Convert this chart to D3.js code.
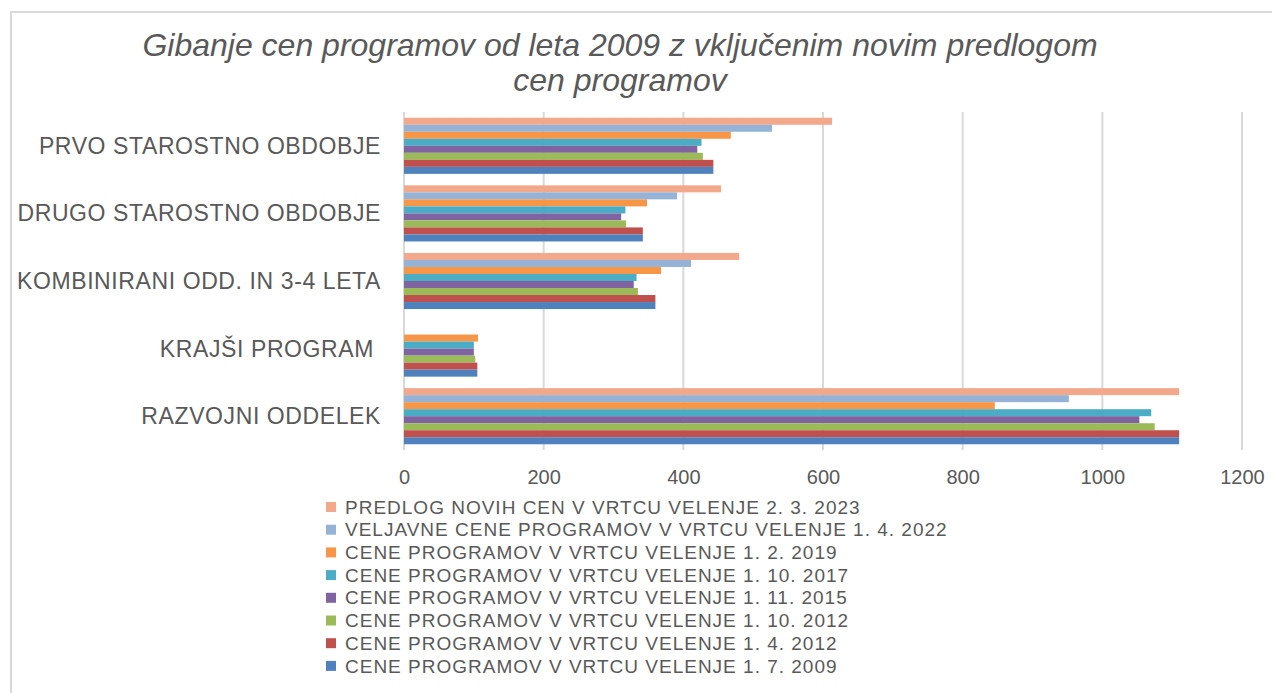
<!DOCTYPE html>
<html>
<head>
<meta charset="utf-8">
<script src="https://cdn.jsdelivr.net/npm/d3@7"></script>
<style>
  body { margin: 0; background: #fff; }
  text { font-family: "Liberation Sans", Arial, sans-serif; fill: #595959; }
</style>
</head>
<body>
<div id="chart"></div>
<script>
var svgWidth = 1272;
var svgHeight = 693;

// categories, top to bottom
var categories = [
  "PRVO STAROSTNO OBDOBJE",
  "DRUGO STAROSTNO OBDOBJE",
  "KOMBINIRANI ODD. IN 3-4 LETA",
  "KRAJŠI PROGRAM ",
  "RAZVOJNI ODDELEK"
];

// series, top bar in each group first
var seriesNames = [
  "PREDLOG NOVIH CEN V VRTCU VELENJE 2. 3. 2023",
  "VELJAVNE CENE PROGRAMOV V VRTCU VELENJE 1. 4. 2022",
  "CENE PROGRAMOV V VRTCU VELENJE 1. 2. 2019",
  "CENE PROGRAMOV V VRTCU VELENJE 1. 10. 2017",
  "CENE PROGRAMOV V VRTCU VELENJE 1. 11. 2015",
  "CENE PROGRAMOV V VRTCU VELENJE 1. 10. 2012",
  "CENE PROGRAMOV V VRTCU VELENJE 1. 4. 2012",
  "CENE PROGRAMOV V VRTCU VELENJE 1. 7. 2009"
];

var seriesColors = ["#F2A88B", "#95B3D7", "#F79646", "#4BACC6", "#8064A2", "#9BBB59", "#C0504D", "#4F81BD"];

// values per series, in category order
var predlog2023 = [613, 454, 480, null, 1110];
var veljavne2022 = [527, 391, 411, null, 952];
var cene2019 = [468, 348, 368, 106, 846];
var cene2017 = [426, 317, 333, 100, 1070];
var cene2015 = [420, 311, 329, 100, 1053];
var cene2012oct = [428, 318, 335, 102, 1075];
var cene2012apr = [443, 342, 360, 105, 1110];
var cene2009 = [443, 342, 360, 105, 1110];

var seriesValues = [predlog2023, veljavne2022, cene2019, cene2017, cene2015, cene2012oct, cene2012apr, cene2009];

var xTicks = [0, 200, 400, 600, 800, 1000, 1200];

var svg = d3.select("#chart")
  .append("svg")
  .attr("width", svgWidth)
  .attr("height", svgHeight);

// chart frame
svg.append("path")
  .attr("d", "M11,700 L11,12 L1280,12")
  .attr("fill", "none")
  .attr("stroke", "#d9d9d9")
  .attr("stroke-width", 2);

// title
var title = svg.append("text")
  .attr("text-anchor", "middle")
  .style("font-style", "italic")
  .style("font-size", "32px");
title.append("tspan").attr("x", 620).attr("y", 56)
  .text("Gibanje cen programov od leta 2009 z vključenim novim predlogom");
title.append("tspan").attr("x", 620).attr("y", 91)
  .text("cen programov");

var plot = { left: 404, right: 1242, top: 112, bottom: 450 };

var xScale = d3.scaleLinear()
  .domain([0, 1200])
  .range([plot.left, plot.right]);

var yScale = d3.scaleBand()
  .domain(categories)
  .range([plot.top, plot.bottom])
  .paddingInner(0.17)
  .paddingOuter(0.085);

var ySub = d3.scaleBand()
  .domain(d3.range(seriesNames.length))
  .range([0, yScale.bandwidth()]);

// gridlines
svg.append("g")
  .selectAll("line")
  .data(xTicks)
  .enter()
  .append("line")
  .attr("x1", d => xScale(d))
  .attr("x2", d => xScale(d))
  .attr("y1", plot.top)
  .attr("y2", plot.bottom)
  .attr("stroke", "#d9d9d9")
  .attr("stroke-width", 2);

// bars
var groups = svg.append("g")
  .selectAll("g")
  .data(seriesValues)
  .enter()
  .append("g")
  .attr("fill", (d, i) => seriesColors[i]);

groups.each(function (vals, si) {
  d3.select(this).selectAll("rect")
    .data(vals.map((v, ci) => ({ v: v, c: categories[ci] })).filter(d => d.v != null))
    .enter()
    .append("rect")
    .attr("x", xScale(0))
    .attr("y", d => yScale(d.c) + ySub(si))
    .attr("width", d => xScale(d.v) - xScale(0))
    .attr("height", ySub.bandwidth());
});

// x axis labels
var bottomAxis = d3.axisBottom(xScale)
  .tickValues(xTicks)
  .tickFormat(d3.format("d"))
  .tickSize(0)
  .tickPadding(20);

var xAxis = svg.append("g")
  .attr("transform", `translate(0, ${plot.bottom})`)
  .call(bottomAxis);
xAxis.select(".domain").remove();
xAxis.selectAll("text")
  .style("font-size", "20px")
  .style("font-family", "\"Liberation Sans\", Arial, sans-serif")
  .attr("fill", "#595959");

// category labels
svg.append("g")
  .selectAll("text")
  .data(categories)
  .enter()
  .append("text")
  .attr("x", 381)
  .attr("y", d => yScale(d) + yScale.bandwidth() / 2)
  .attr("dy", "0.35em")
  .attr("text-anchor", "end")
  .style("font-size", "23px")
  .style("letter-spacing", "0.6px")
  .style("white-space", "pre")
  .text(d => d);

// legend
var legend = svg.append("g")
  .selectAll("g")
  .data(seriesNames)
  .enter()
  .append("g")
  .attr("transform", (d, i) => `translate(326, ${507 + i * 22.7})`);

legend.append("rect")
  .attr("x", 0)
  .attr("y", -5)
  .attr("width", 10)
  .attr("height", 10)
  .attr("fill", (d, i) => seriesColors[i]);

legend.append("text")
  .attr("x", 19)
  .attr("dy", "0.35em")
  .style("font-size", "19px")
  .style("letter-spacing", "1px")
  .text(d => d);
</script>
</body>
</html>
